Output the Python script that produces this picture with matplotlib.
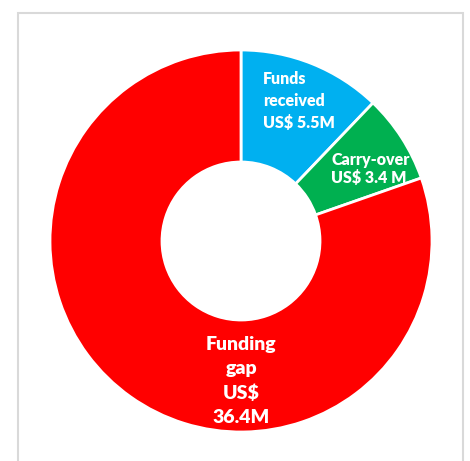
import matplotlib.pyplot as plt
from matplotlib.patches import Rectangle

# Data
labels = ['Funds\nreceived\nUS$ 5.5M', 'Carry-over\nUS$ 3.4 M', 'Funding\ngap\nUS$\n36.4M']
values = [5.5, 3.4, 36.4]
colors = ['#00B0F0', '#00B050', '#FF0000']

W, H = 470, 461
fig = plt.figure(figsize=(W / 100, H / 100), dpi=100)
ax = fig.add_axes([0, 0, 1, 1])

# chart frame (bottom edge runs off the image)
ax.add_patch(Rectangle((18, -10), 445, H - 13 + 10, fill=False,
                       edgecolor='#D9D9D9', linewidth=1.5))

cx, cy, r = 241, H - 241, 191
wedges, _ = ax.pie(values, colors=colors, startangle=90, counterclock=False,
                   center=(cx, cy), radius=r, frame=True,
                   wedgeprops=dict(width=112, edgecolor='white', linewidth=2))
ax.set_xlim(0, W)
ax.set_ylim(0, H)
ax.set_aspect('equal')
ax.axis('off')

fam = ['Lato', 'DejaVu Sans']
ax.text(263, H - 101, labels[0], ha='left', va='center', multialignment='left',
        linespacing=1.45, fontsize=11.5, color='white', fontweight='heavy', family=fam)
ax.text(331, H - 169, labels[1], ha='left', va='center', multialignment='left',
        linespacing=1.1, fontsize=11.5, color='white', fontweight='heavy', family=fam)
ax.text(241, H - 381, labels[2], ha='center', va='center', multialignment='center',
        linespacing=1.5, fontsize=14, color='white', fontweight='heavy', family=fam)

fig.savefig('out.png', dpi=100)
